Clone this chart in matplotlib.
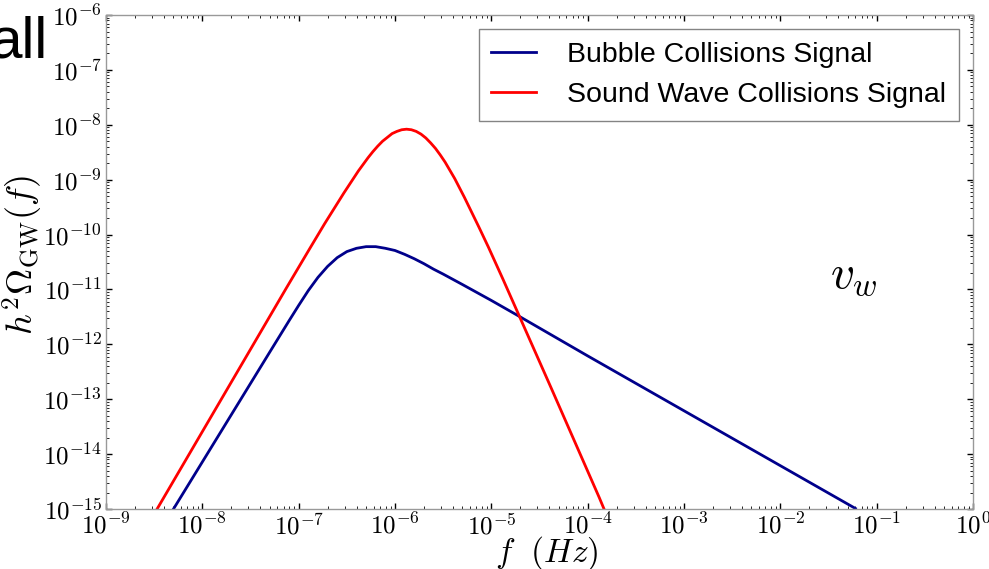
import numpy as np
import matplotlib
matplotlib.use("Agg")
import matplotlib.pyplot as plt
from matplotlib.ticker import LogLocator, FuncFormatter, NullFormatter

plt.rcParams['mathtext.fontset'] = 'cm'

# Data (log10 values)
bubble_logf = [-8.30, -7.80, -7.30, -7.10, -7.00, -6.90, -6.80, -6.70, -6.60, -6.50,
               -6.40, -6.30, -6.20, -6.10, -6.00, -5.90, -5.80, -5.70, -5.60, -5.50,
               -5.30, -5.00, -4.70, -4.00, -3.00, -2.00, -1.22]
bubble_logO = [-15.00, -13.57, -12.14, -11.57, -11.29, -11.02, -10.78, -10.58, -10.42, -10.31,
               -10.25, -10.22, -10.22, -10.25, -10.29, -10.36, -10.44, -10.53, -10.63, -10.72,
               -10.91, -11.20, -11.50, -12.21, -13.21, -14.21, -14.99]

sound_logf = [-8.47, -7.88, -7.38, -7.13, -6.88, -6.73, -6.63, -6.53, -6.38, -6.33, -6.28,
              -6.23, -6.18, -6.13, -6.08, -6.03, -5.98, -5.93, -5.88, -5.83, -5.78, -5.73,
              -5.68, -5.63, -5.58, -5.53, -5.48, -5.38, -5.28, -5.13, -5.03, -4.88, -4.63,
              -4.38, -3.88, -3.83]
sound_logO = [-15.00, -13.23, -11.73, -10.98, -10.24, -9.80, -9.52, -9.24, -8.84, -8.72, -8.60,
              -8.49, -8.39, -8.30, -8.23, -8.16, -8.12, -8.09, -8.08, -8.09, -8.12, -8.17,
              -8.24, -8.33, -8.43, -8.55, -8.68, -8.98, -9.32, -9.86, -10.23, -10.81, -11.80,
              -12.79, -14.79, -15.00]

series_labels = ["Bubble Collisions Signal", "Sound Wave Collisions Signal"]

fig = plt.figure(figsize=(9.89, 5.69), dpi=100)
ax = fig.add_axes([0.1072, 0.1054, 0.8766, 0.8682])

ax.plot(10 ** np.array(bubble_logf), 10 ** np.array(bubble_logO), color='#00008b', lw=2.0,
        label=series_labels[0])
ax.plot(10 ** np.array(sound_logf), 10 ** np.array(sound_logO), color='#ff0000', lw=2.0,
        label=series_labels[1])

ax.set_xscale('log')
ax.set_yscale('log')
ax.set_xlim(1e-9, 1e0)
ax.set_ylim(1e-15, 1e-6)

fmt = FuncFormatter(lambda v, pos: r'$10^{%d}$' % int(round(np.log10(v))))
ax.xaxis.set_major_locator(LogLocator(base=10, numticks=20))
ax.yaxis.set_major_locator(LogLocator(base=10, numticks=20))
ax.xaxis.set_minor_locator(LogLocator(base=10, subs=np.arange(2, 10), numticks=200))
ax.yaxis.set_minor_locator(LogLocator(base=10, subs=np.arange(2, 10), numticks=200))
ax.xaxis.set_major_formatter(fmt)
ax.yaxis.set_major_formatter(fmt)
ax.xaxis.set_minor_formatter(NullFormatter())
ax.yaxis.set_minor_formatter(NullFormatter())

ax.tick_params(which='both', direction='in', top=True, right=True, colors='black',
               labelsize=18)
ax.tick_params(which='major', length=4, width=1)
ax.tick_params(which='minor', length=2, width=0.6)
ax.tick_params(axis='x', pad=3)
ax.tick_params(axis='y', pad=3)
for s in ax.spines.values():
    s.set_color('#999999')
    s.set_linewidth(1.0)

ax.set_xlabel(r'$f\ \ (Hz)$', fontsize=24)
ax.xaxis.set_label_coords(0.508, -0.05)
ax.set_ylabel(r'$h^2\Omega_{\rm GW}(f)$', fontsize=26)
ax.yaxis.set_label_coords(-0.07, 0.515)

leg = ax.legend(loc='upper right', frameon=True, fancybox=False,
                prop={'family': 'Liberation Sans', 'size': 20.5},
                borderaxespad=0.5, handlelength=1.55, handletextpad=1.1, labelspacing=0.5,
                borderpad=0.45)
leg.get_frame().set_edgecolor('#666666')
leg.get_frame().set_linewidth(1.0)

fig.text(-10 / 989, 1 - 58 / 569, 'all', fontsize=42, family='Liberation Sans', ha='left',
         va='baseline', color='black')
fig.text(830 / 989, 1 - 288 / 569, r'$v_w$', fontsize=34, ha='left', va='baseline')

fig.savefig('out.png', dpi=100)
